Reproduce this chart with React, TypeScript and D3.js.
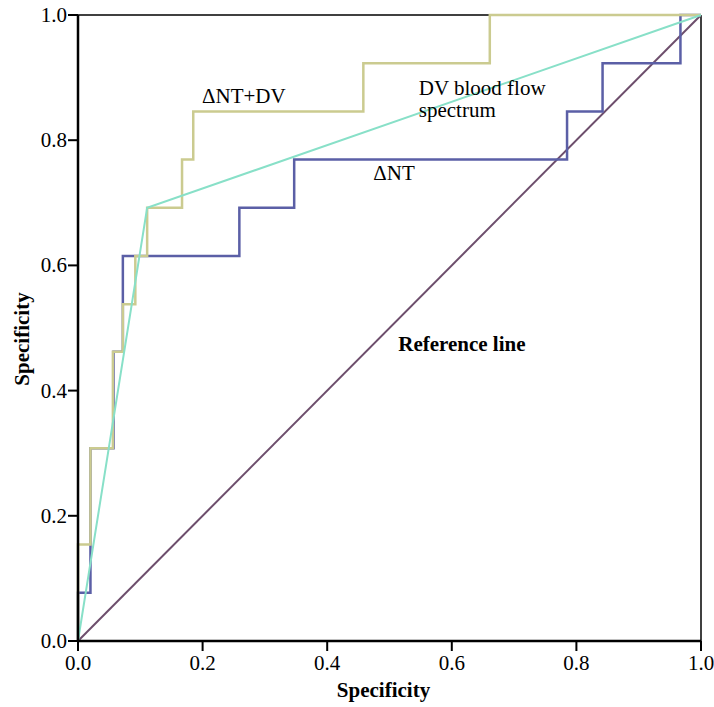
import React from "react";
import * as d3 from "d3";

// ROC curves, values (steps are multiples of 1/13)
const ntX = [0, 0, 0.02, 0.02, 0.057, 0.057, 0.072, 0.072, 0.259, 0.259, 0.347, 0.347, 0.785, 0.785, 0.842, 0.842, 0.967, 0.967, 1];
const ntY = [0, 0.077, 0.077, 0.308, 0.308, 0.462, 0.462, 0.615, 0.615, 0.692, 0.692, 0.769, 0.769, 0.846, 0.846, 0.923, 0.923, 1, 1];

const ntDvX = [0, 0, 0.02, 0.02, 0.056, 0.056, 0.072, 0.072, 0.092, 0.092, 0.111, 0.111, 0.167, 0.167, 0.185, 0.185, 0.458, 0.458, 0.661, 0.661, 1];
const ntDvY = [0, 0.154, 0.154, 0.308, 0.308, 0.462, 0.462, 0.538, 0.538, 0.615, 0.615, 0.692, 0.692, 0.769, 0.769, 0.846, 0.846, 0.923, 0.923, 1, 1];

const dvX = [0, 0.111, 1];
const dvY = [0, 0.692, 1];

const refX = [0, 1];
const refY = [0, 1];

const ticks = [0, 0.2, 0.4, 0.6, 0.8, 1.0];

const W = 714, H = 707;
const margin = { top: 15, right: 13, bottom: 66, left: 78 };

export default function App() {
    const width = W - margin.left - margin.right;
    const height = H - margin.top - margin.bottom;
    const x = d3.scaleLinear().domain([0, 1]).range([0, width]);
    const y = d3.scaleLinear().domain([0, 1]).range([height, 0]);

    const line = d3.line<number[]>()
        .x(d => x(d[0]))
        .y(d => y(d[1]));
    const pts = (xs: number[], ys: number[]) => xs.map((v, i) => [v, ys[i]]);

    const font = "Liberation Serif, DejaVu Serif, serif";

    return (
        <svg width={W} height={H} style={{ position: "absolute", left: 0, top: 0, background: "#fff", fontFamily: font }}>
            <g transform={`translate(${margin.left},${margin.top})`}>
                {/* frame */}
                <line x1={0} x2={width} y1={0} y2={0} stroke="#000" strokeWidth={1.5} />
                <line x1={width} x2={width} y1={0} y2={height} stroke="#000" strokeWidth={1.5} />

                <path d={line(pts(refX, refY)) || ""} fill="none" stroke="#6d4e6c" strokeWidth={2} />
                <path d={line(pts(ntX, ntY)) || ""} fill="none" stroke="#5b5fa6" strokeWidth={2.5} />
                <path d={line(pts(ntDvX, ntDvY)) || ""} fill="none" stroke="#cbcb90" strokeWidth={2.5} />
                <path d={line(pts(dvX, dvY)) || ""} fill="none" stroke="#88e0c8" strokeWidth={2} />

                {/* axes */}
                <line x1={0} x2={0} y1={0} y2={height} stroke="#000" strokeWidth={2.5} />
                <line x1={0} x2={width} y1={height} y2={height} stroke="#000" strokeWidth={2.5} />
                {ticks.map(t => (
                    <g key={"x" + t}>
                        <line x1={x(t)} x2={x(t)} y1={height} y2={height + 10} stroke="#000" strokeWidth={2} />
                        <text x={x(t)} y={height + 29} textAnchor="middle" fontSize={21}>{t.toFixed(1)}</text>
                    </g>
                ))}
                {ticks.map(t => (
                    <g key={"y" + t}>
                        <line x1={-10} x2={0} y1={y(t)} y2={y(t)} stroke="#000" strokeWidth={2} />
                        <text x={-11} y={y(t) + 7} textAnchor="end" fontSize={21}>{t.toFixed(1)}</text>
                    </g>
                ))}

                {/* curve labels */}
                <g fontSize={21} fontWeight={500}>
                    <text x={x(0.199)} y={y(0.859)}>ΔNT+DV</text>
                    <text x={x(0.547)} y={y(0.872)}>DV blood flow</text>
                    <text x={x(0.547)} y={y(0.837)}>spectrum</text>
                    <text x={x(0.474)} y={y(0.736)}>ΔNT</text>
                    <text x={x(0.514)} y={y(0.463)} fontWeight="bold">Reference line</text>
                </g>

                {/* axis titles */}
                <text x={width / 2 - 6} y={height + 56} textAnchor="middle" fontSize={21} fontWeight="bold">Specificity</text>
                <text transform={`translate(${-49},${height / 2 + 11}) rotate(-90)`} textAnchor="middle" fontSize={21} fontWeight="bold">Specificity</text>
            </g>
        </svg>
    );
}
